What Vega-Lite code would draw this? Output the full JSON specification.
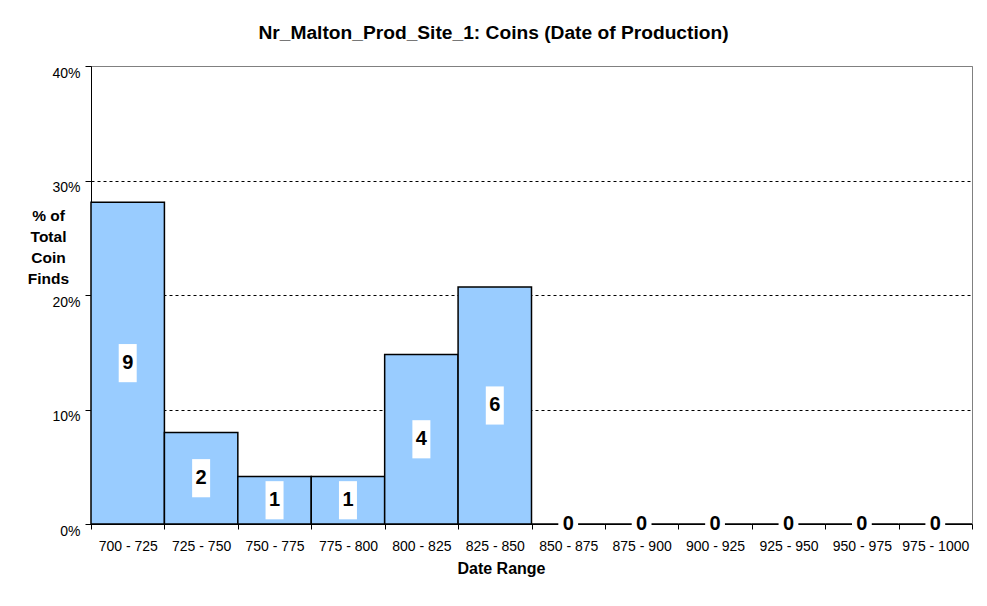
{
  "$schema": "https://vega.github.io/schema/vega-lite/v6.json",
  "width": 881,
  "height": 458,
  "autosize": {"type": "none"},
  "padding": {"left": 91, "top": 66, "right": 15, "bottom": 82},
  "background": "white",
  "config": {
    "view": {"stroke": "#808080", "strokeWidth": 1},
    "font": "Liberation Sans"
  },
  "title": {
    "text": "Nr_Malton_Prod_Site_1: Coins (Date of Production)",
    "font": "Liberation Sans",
    "fontSize": 19.2,
    "fontWeight": "bold",
    "color": "black",
    "anchor": "middle",
    "dx": -38,
    "offset": 22
  },
  "data": {
    "values": [
      {"range": "700 - 725", "pct": 0.281, "count": 9},
      {"range": "725 - 750", "pct": 0.080, "count": 2},
      {"range": "750 - 775", "pct": 0.0415, "count": 1},
      {"range": "775 - 800", "pct": 0.0415, "count": 1},
      {"range": "800 - 825", "pct": 0.148, "count": 4},
      {"range": "825 - 850", "pct": 0.207, "count": 6},
      {"range": "850 - 875", "pct": 0, "count": 0},
      {"range": "875 - 900", "pct": 0, "count": 0},
      {"range": "900 - 925", "pct": 0, "count": 0},
      {"range": "925 - 950", "pct": 0, "count": 0},
      {"range": "950 - 975", "pct": 0, "count": 0},
      {"range": "975 - 1000", "pct": 0, "count": 0}
    ]
  },
  "layer": [
    {
      "mark": {"type": "bar", "fill": "#99CCFF", "stroke": "black", "strokeWidth": 1.5},
      "encoding": {
        "x": {
          "field": "range",
          "type": "ordinal",
          "sort": null,
          "scale": {"paddingInner": 0, "paddingOuter": 0},
          "axis": {
            "zindex": 0,
            "labelAngle": 0,
            "labelFontSize": 14,
            "labelColor": "black",
            "labelPadding": 10,
            "tickBand": "extent",
            "tickSize": 5,
            "tickColor": "black",
            "domainColor": "black",
            "title": "Date Range",
            "titleFontSize": 16,
            "titleFontWeight": "bold",
            "titleColor": "black",
            "titleX": 410,
            "titleY": 49,
            "titleAlign": "center",
            "titleBaseline": "alphabetic"
          }
        },
        "y": {
          "field": "pct",
          "type": "quantitative",
          "scale": {"domain": [0, 0.4]},
          "axis": {
            "values": [0, 0.1, 0.2, 0.3, 0.4],
            "format": ".0%",
            "labelFontSize": 14,
            "labelColor": "black",
            "labelPadding": 5,
            "labelOffset": 7,
            "tickSize": 6,
            "tickColor": "black",
            "domainColor": "black",
            "grid": true,
            "gridColor": {"condition": {"test": "datum.value >= 0.39", "value": "#808080"}, "value": "black"},
            "gridDash": {"condition": {"test": "datum.value >= 0.39", "value": []}, "value": [3, 3]},
            "gridWidth": 1,
            "title": ["% of", "Total", "Coin", "Finds"],
            "titleAngle": 0,
            "titleFontSize": 15.5,
            "titleFontWeight": "bold",
            "titleColor": "black",
            "titleX": -43,
            "titleY": 149,
            "titleAlign": "center",
            "titleBaseline": "middle",
            "titleLineHeight": 21
          }
        }
      }
    },
    {
      "transform": [{"filter": "datum.count > 0"}],
      "mark": {"type": "point", "shape": "M-0.5,-1.06H0.5V1.06H-0.5Z", "size": 1296, "filled": true, "fill": "white", "opacity": 1, "strokeWidth": 0},
      "encoding": {
        "x": {"field": "range", "type": "ordinal", "sort": null},
        "y": {"field": "pct", "type": "quantitative", "scale": {"domain": [0, 0.8]}, "axis": null}
      }
    },
    {
      "transform": [{"filter": "datum.count == 0"}],
      "mark": {"type": "point", "shape": "M-0.55,-1.06H0.55V0.8H-0.55Z", "size": 1296, "filled": true, "fill": "white", "opacity": 1, "strokeWidth": 0},
      "encoding": {
        "x": {"field": "range", "type": "ordinal", "sort": null},
        "y": {"field": "pct", "type": "quantitative", "scale": {"domain": [0, 0.8]}, "axis": null}
      }
    },
    {
      "mark": {"type": "text", "fontSize": 20, "fontWeight": "bold", "color": "black", "baseline": "middle", "align": "center"},
      "encoding": {
        "x": {"field": "range", "type": "ordinal", "sort": null},
        "y": {"field": "pct", "type": "quantitative", "scale": {"domain": [0, 0.8]}, "axis": null},
        "text": {"field": "count", "type": "quantitative"}
      }
    }
  ],
  "resolve": {"scale": {"y": "independent"}}
}
